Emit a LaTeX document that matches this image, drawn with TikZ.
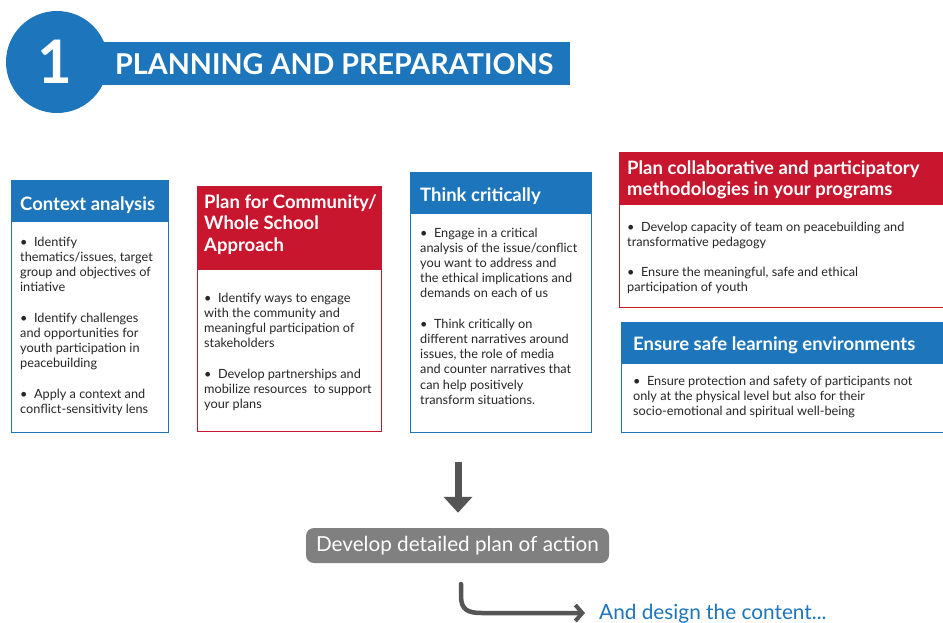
\documentclass[tikz,border=0pt]{standalone}
\usepackage{fontspec}
\setmainfont{Lato}
\usetikzlibrary{arrows.meta}
\definecolor{ublue}{RGB}{29,117,187}
\definecolor{ured}{RGB}{200,22,46}
\definecolor{agray}{RGB}{85,85,85}
\definecolor{bgray}{RGB}{128,128,128}
\newcommand{\mylines}[1]{\renewcommand{\arraystretch}{1}\begin{tabular}[t]{@{}l@{}}#1\end{tabular}}
\begin{document}
\begin{tikzpicture}[x=1pt,y=-1pt,
 frame/.style={draw=#1, line width=1.2pt, anchor=north west, inner sep=0pt},
 head/.style={fill=#1, anchor=north west, inner sep=0pt},
 htext/.style={text=white, font=\fontsize{18.5}{21.5}\selectfont\bfseries, anchor=base west, inner sep=0pt},
 btext/.style={text=black!85, font=\fontsize{12.7}{15.2}\selectfont, anchor=base west, inner sep=0pt},
]
\useasboundingbox[fill=white] (0,0) rectangle (943,622);

% title banner
\node[fill=ublue, anchor=north west, inner sep=0pt, minimum width=475pt, minimum height=43pt] (ban) at (95,42) {};
\node[fill=ublue, circle, inner sep=0pt, minimum size=102pt] (num) at (57,62) {};
\node[text=white, font=\fontsize{60}{60}\selectfont\bfseries, anchor=base, inner sep=0pt] (one) at (55,83) {1};
\node[text=white, font=\fontsize{28.7}{28}\selectfont\bfseries, anchor=base west, inner sep=0pt] (title) at (115,74) {PLANNING AND PREPARATIONS};

% box 1
\node[head=ublue, minimum width=157pt, minimum height=42pt] (cah) at (11,180) {};
\node[frame=ublue, minimum width=157pt, minimum height=252pt] (ca) at (11,180) {};
\node[htext] (cat) at (20,210) {\mylines{Context analysis}};
\node[btext] (cab) at (20,246) {\mylines{•\ \ Identify\\thematics/issues, target\\group and objectives of\\intiative\\[15.2pt]•\ \ Identify challenges\\and opportunities for\\youth participation in\\peacebuilding\\[15.2pt]•\ \ Apply a context and\\conflict-sensitivity lens}};

% box 2
\node[head=ured, minimum width=184pt, minimum height=84pt] (pch) at (197,186) {};
\node[frame=ured, minimum width=184pt, minimum height=245pt] (pc) at (197,186) {};
\node[htext] (pct) at (204,208) {\mylines{Plan for Community/\\Whole School\\Approach}};
\node[btext] (pcb) at (204,302) {\mylines{•\ \ Identify ways to engage\\with the community and\\meaningful participation of\\stakeholders\\[15.2pt]•\ \ Develop partnerships and\\mobilize resources\ \ to support\\your plans}};

% box 3
\node[head=ublue, minimum width=181pt, minimum height=42pt] (tch) at (410,172) {};
\node[frame=ublue, minimum width=181pt, minimum height=260pt] (tc) at (410,172) {};
\node[htext] (tct) at (420,201) {\mylines{Think critically}};
\node[btext] (tcb) at (420,237) {\mylines{•\ \ Engage in a critical\\analysis of the issue/conflict\\you want to address and\\the ethical implications and\\demands on each of us\\[15.2pt]•\ \ Think critically on\\different narratives around\\issues, the role of media\\and counter narratives that\\can help positively\\transform situations.}};

% box 4
\node[head=ured, minimum width=330pt, minimum height=53pt] (pmh) at (619,152) {};
\node[frame=ured, minimum width=330pt, minimum height=155pt] (pm) at (619,152) {};
\node[htext] (pmt) at (627,174) {\mylines{Plan collaborative and participatory\\methodologies in your programs}};
\node[btext] (pmb) at (627,231) {\mylines{•\ \ Develop capacity of team on peacebuilding and\\transformative pedagogy\\[15.2pt]•\ \ Ensure the meaningful, safe and ethical\\participation of youth}};

% box 5
\node[head=ublue, minimum width=330pt, minimum height=42pt] (sfh) at (621,322) {};
\node[frame=ublue, minimum width=330pt, minimum height=110pt] (sf) at (621,322) {};
\node[htext] (sft) at (633,350) {\mylines{Ensure safe learning environments}};
\node[btext] (sfb) at (633,385) {\mylines{•\ \ Ensure protection and safety of participants not\\only at the physical level but also for their\\socio-emotional and spiritual well-being}};

% plan of action
\node[fill=bgray, rounded corners=8pt, minimum width=303pt, minimum height=35pt, inner sep=0pt, text=white, font=\fontsize{20.7}{20}\selectfont] (act) at (457.5,545.5) {Develop detailed plan of action};
\coordinate (ds) at (458,462);
\draw[agray, line width=7pt, -{Triangle[width=28pt,length=16pt]}, shorten >=15pt] (ds) -- (ds |- act.north);

\coordinate (cs) at (461,584);
\node[text=ublue, font=\fontsize{20.8}{20}\selectfont, anchor=base west, inner sep=0pt] (des) at (599,619) {And design the content...};
\draw[agray, line width=4.5pt, line cap=round, -{Straight Barb[length=7pt,width=16pt,line width=4pt]}] (cs) -- (461,596) .. controls (461,610) and (468,613) .. (482,613) -- (585,613);
\end{tikzpicture}
\end{document}
